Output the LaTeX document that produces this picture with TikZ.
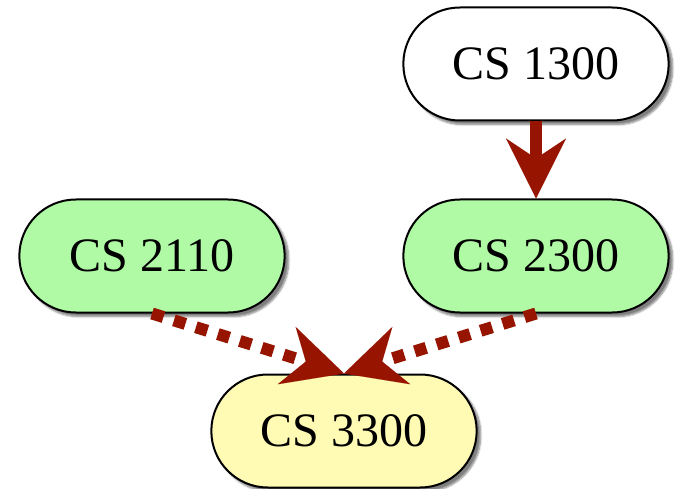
\documentclass[tikz,border=0pt]{standalone}
\usepackage{fontspec}
\setmainfont{Liberation Serif}
\usetikzlibrary{positioning, shapes.misc, arrows.meta, shadows.blur}

\definecolor{takengreen}{RGB}{176,250,166}
\definecolor{nextyellow}{RGB}{255,250,180}
\definecolor{prereqred}{RGB}{150,20,0}

\begin{document}
\begin{tikzpicture}[x=1pt, y=-1pt,
  course/.style={rounded rectangle, draw=black, line width=2pt, minimum width=272pt, minimum height=113pt,
    font=\fontsize{48}{58}\selectfont,
    blur shadow={shadow xshift=4pt, shadow yshift=-4pt, shadow blur steps=6, shadow blur extra rounding=2pt, shadow opacity=50}},
  prereq/.style={draw=prereqred, line width=12pt, -{Stealth[length=60pt, width=60pt, inset=20pt, line width=0.01pt]}},
  coreq/.style={prereq, dash pattern=on 12pt off 11pt}]
\useasboundingbox (0,0) rectangle (675,489);

\node[course, fill=white](cs1300) at (536,64) {CS 1300};
\node[course, fill=takengreen](cs2110) at (152,256) {CS 2110};
\node[course, fill=takengreen](cs2300) at (536,256) {CS 2300};
\node[course, fill=nextyellow](cs3300) at (344,431) {CS 3300};

\draw[prereq] (cs1300.south) -- (cs2300.north);
\draw[coreq] (cs2110.south) -- (cs3300.north);
\draw[coreq] (cs2300.south) -- (cs3300.north);
\end{tikzpicture}
\end{document}
